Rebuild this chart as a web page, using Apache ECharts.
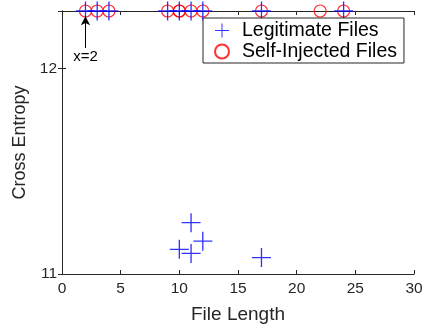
<!DOCTYPE html>
<html>
<head>
<meta charset="utf-8">
<script src="https://cdn.jsdelivr.net/npm/echarts@6/dist/echarts.min.js"></script>
<style>
  html, body { margin: 0; padding: 0; background: #fff; }
  #chart { width: 427px; height: 326px; }
</style>
</head>
<body>
<div id="chart"></div>
<script>
// values
const legitX = [2, 3, 4, 9, 10, 11, 12, 17, 24, 10, 11, 11, 12, 17];
const legitY = [12.28, 12.28, 12.28, 12.28, 12.28, 12.28, 12.28, 12.28, 12.28, 11.12, 11.10, 11.25, 11.16, 11.08];
const injX = [2, 3, 4, 9, 10, 10, 11, 12, 17, 22, 24];
const injY = [12.28, 12.28, 12.28, 12.28, 12.28, 12.28, 12.28, 12.28, 12.28, 12.28, 12.28];
const xTicks = [0, 5, 10, 15, 20, 25, 30];
const yTicks = [11, 12];

const axisColor = "#262626";
const font = "Liberation Sans";
const plus = "path://M0,9.3H20V10.7H0Z M9.3,0H10.7V20H9.3Z";

function pairs(xs, ys) {
  return xs.map((x, i) => [x, ys[i]]);
}

let chart = echarts.init(document.getElementById("chart"));
chart.setOption({
  animation: false,
  textStyle: { fontFamily: font },
  grid: { left: 62, right: 13, top: 11, bottom: 52, outerBoundsMode: "none" },
  legend: {
    orient: "vertical",
    left: 203,
    top: 18,
    padding: [2, 7, 1, 11],
    itemGap: 0,
    itemWidth: 30,
    itemHeight: 14,
    backgroundColor: "#fff",
    borderColor: axisColor,
    borderWidth: 1,
    borderRadius: 0,
    textStyle: { fontSize: 19.5, lineHeight: 21, color: "#000", fontFamily: font },
    data: ["Legitimate Files", "Self-Injected Files"]
  },
  xAxis: [
    {
      type: "value",
      min: xTicks[0],
      max: xTicks[xTicks.length - 1],
      interval: 5,
      name: "File Length",
      nameLocation: "middle",
      nameGap: 31,
      nameTextStyle: { fontSize: 19, color: axisColor },
      axisLine: { lineStyle: { color: axisColor, width: 1 } },
      axisTick: { inside: true, length: 4, lineStyle: { color: axisColor } },
      axisLabel: { fontSize: 15.5, color: axisColor, margin: 7 },
      splitLine: { show: false }
    },
    {
      type: "value",
      position: "top",
      min: xTicks[0],
      max: xTicks[xTicks.length - 1],
      interval: 5,
      axisLine: { lineStyle: { color: axisColor, width: 1 } },
      axisTick: { inside: true, length: 4, lineStyle: { color: axisColor } },
      axisLabel: { show: false },
      splitLine: { show: false }
    }
  ],
  yAxis: [
    {
      type: "value",
      min: yTicks[0],
      max: 12.28,
      interval: 1,
      name: "Cross Entropy",
      nameLocation: "middle",
      nameGap: 24,
      nameTextStyle: { fontSize: 18, color: axisColor },
      axisLine: { lineStyle: { color: axisColor, width: 1 } },
      axisTick: { inside: true, length: 4, lineStyle: { color: axisColor } },
      axisLabel: {
        fontSize: 15.5,
        color: axisColor,
        margin: 5,
        formatter: v => (yTicks.includes(v) ? String(v) : "")
      },
      splitLine: { show: false }
    },
    {
      type: "value",
      position: "right",
      min: yTicks[0],
      max: 12.28,
      interval: 1,
      axisLine: { lineStyle: { color: axisColor, width: 1 } },
      axisTick: { inside: true, length: 4, lineStyle: { color: axisColor } },
      axisLabel: { show: false },
      splitLine: { show: false }
    }
  ],
  series: [
    {
      name: "Legitimate Files",
      type: "scatter",
      symbol: plus,
      symbolSize: 19,
      itemStyle: { color: "#0000ff" },
      data: pairs(legitX, legitY),
      z: 3,
      markLine: {
        silent: true,
        symbol: ["none", "arrow"],
        symbolSize: [7, 9],
        lineStyle: { color: "#000", width: 1, type: "solid" },
        label: { show: false },
        data: [[{ coord: [2, 12.1] }, { coord: [2, 12.255] }]]
      },
      markPoint: {
        silent: true,
        symbol: "circle",
        symbolSize: 0,
        label: {
          show: true,
          position: "inside",
          formatter: "x=2",
          fontSize: 15,
          color: "#000",
          fontFamily: font
        },
        data: [{ coord: [2, 12.055] }]
      }
    },
    {
      name: "Self-Injected Files",
      type: "scatter",
      symbol: "circle",
      symbolSize: 12,
      itemStyle: { color: "rgba(0,0,0,0)", borderColor: "#ff0000", borderWidth: 1.2 },
      data: pairs(injX, injY),
      z: 2
    }
  ]
});
</script>
</body>
</html>
